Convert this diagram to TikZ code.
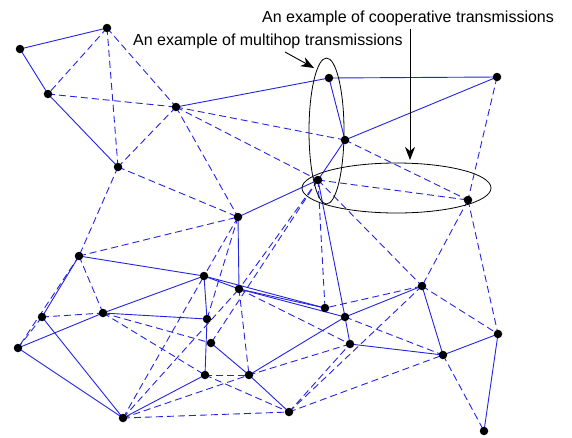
\documentclass[tikz,border=0pt]{standalone}
\usepackage{fontspec}
\setmainfont{Liberation Sans}
\usetikzlibrary{arrows.meta,shapes.geometric,backgrounds}
\definecolor{netblue}{RGB}{35,35,225}
\begin{document}
\begin{tikzpicture}[x=1pt,y=-1pt,
  dot/.style={circle,fill=black,inner sep=0pt,minimum size=8.5pt},
  sol/.style={draw=netblue,line width=0.9pt},
  das/.style={draw=netblue,line width=0.9pt,dash pattern=on 7pt off 4pt},
  ann/.style={draw=black,line width=0.8pt},
  lbl/.style={font=\fontsize{16}{19}\selectfont,inner sep=0pt,anchor=base west}]
\useasboundingbox (0,0) rectangle (572,437);
\foreach \n/\x/\y in {A/20/49,B/107/28,C/48/94,D/176/107,E/118/167,F/238/217,
  G/329/78,H/497/77,I/345/140,J/318/180,K/468/200,L/79/256,M/204/276,N/239/289,
  O/42/317,P/103/313,Q/207/319,R/18/348,S/211/343,T/205/375,U/249/375,V/123/418,
  W/289/412,X/422/286,Y/325/308,Z/345/317,Ab/350/344,Bb/443/355,Cc/498/334,Dd/484/431}
  {\node[dot] (\n) at (\x,\y) {};}
\begin{scope}[on background layer]
\foreach \a/\b in {A/B,A/C,C/E,D/G,G/H,G/I,I/H,I/J,J/Z,Z/Ab,F/N,F/J,M/N,N/Y,N/Z,M/Y,
  L/M,L/O,O/V,R/P,R/V,P/M,P/Q,M/Q,Q/T,V/T,S/U,U/W,U/Z,Z/X,Ab/Bb,X/Bb,Bb/Cc,Cc/Dd}
  {\draw[sol] (\a.center) -- (\b.center);}
\foreach \a/\b in {B/C,B/E,B/D,C/D,D/E,D/F,D/I,D/J,E/F,E/L,L/F,H/K,K/Cc,K/X,
  J/K,I/K,J/Y,J/X,J/N,J/S,X/Cc,X/Y,X/W,Z/Bb,Ab/U,W/Bb,W/Ab,N/Ab,Bb/Dd,L/P,L/R,
  O/R,O/P,P/S,P/T,T/U,T/W,N/U,V/W,V/U,V/M,V/N,F/M,F/Q}
  {\draw[das] (\a.center) -- (\b.center);}
\end{scope}
\node[ann,ellipse,minimum width=35pt,minimum height=146pt,inner sep=0pt] (e1) at (326.5,131) {};
\node[ann,ellipse,minimum width=189pt,minimum height=50pt,inner sep=0pt] (e2) at (396.5,188) {};
\node[lbl] (t1) at (262,22.5) {An example of cooperative transmissions};
\node[lbl] (t2) at (133,45.5) {An example of multihop transmissions};
\coordinate (a1s) at (285,52);
\coordinate (a1e) at (314,68);
\coordinate (a2s) at (410,29);
\coordinate (a2e) at (410,160);
\draw[black,line width=0.9pt,-{Stealth[length=13pt,width=10pt,inset=4pt]}] (a1s) -- (a1e);
\draw[black,line width=0.9pt,-{Stealth[length=13pt,width=10pt,inset=4pt]}] (a2s) -- (a2e);
\end{tikzpicture}
\end{document}
